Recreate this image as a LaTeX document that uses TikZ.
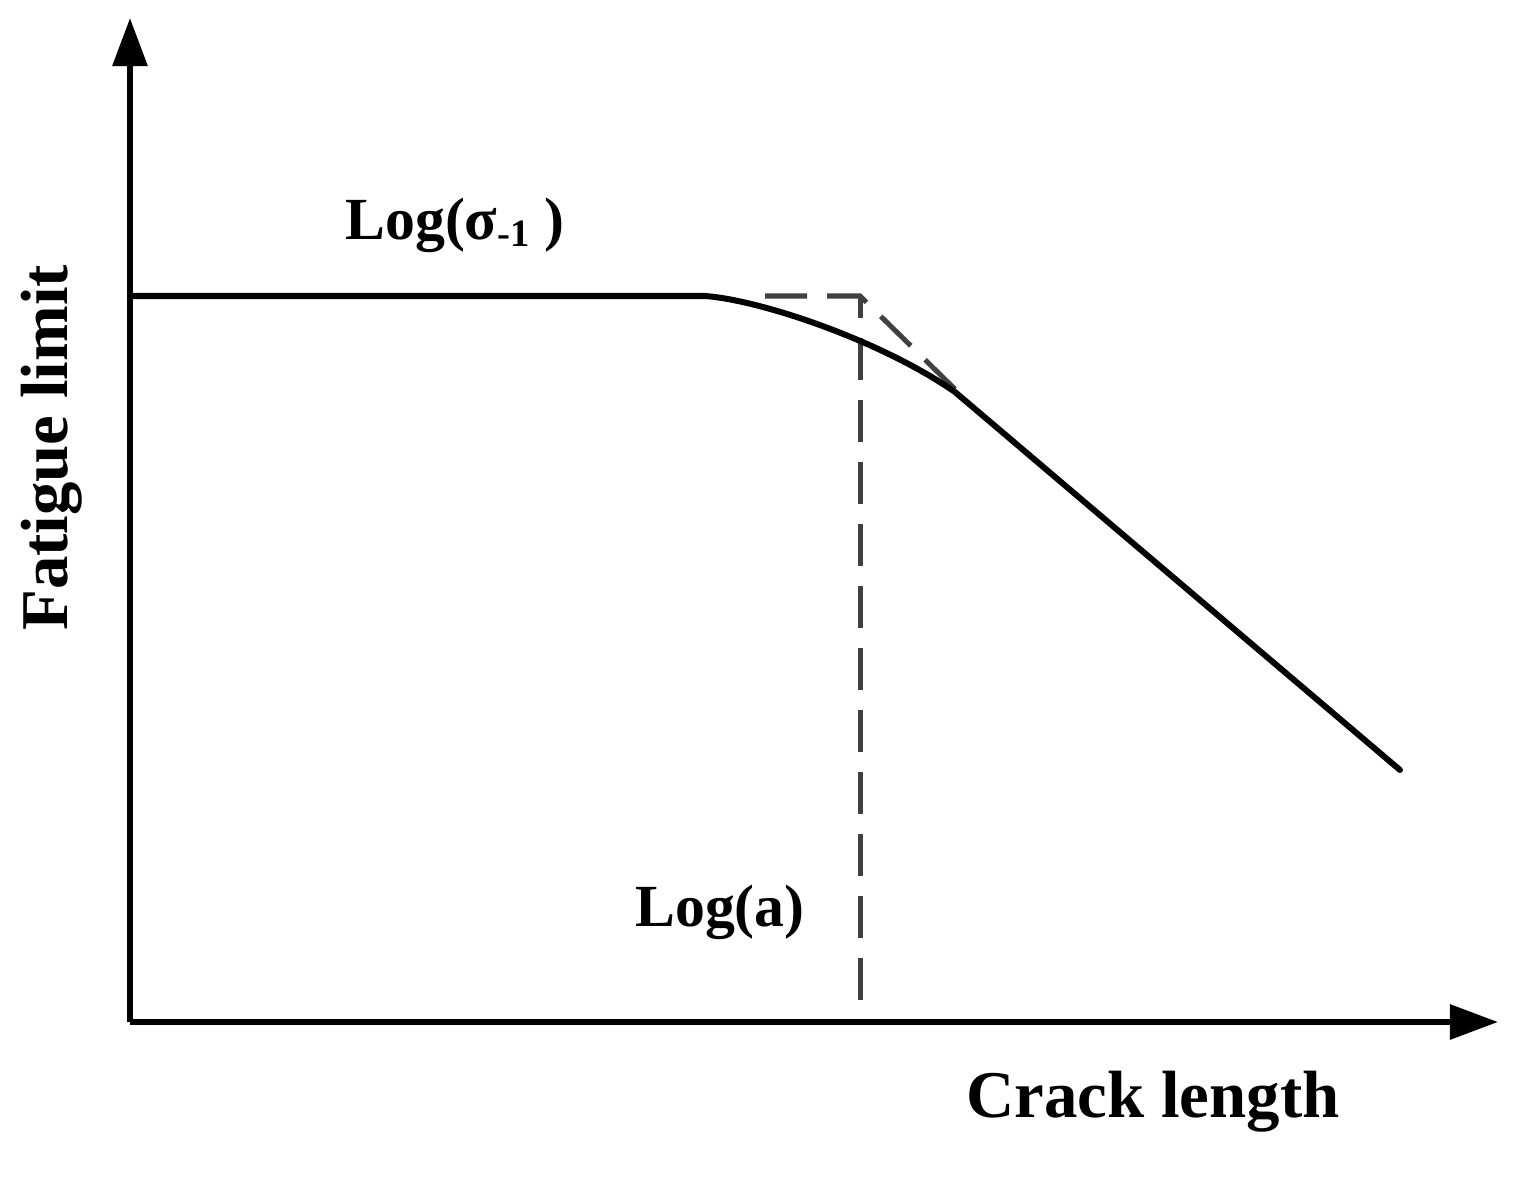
\documentclass[tikz,border=0pt]{standalone}
\usepackage{fontspec}
\setmainfont{Liberation Serif}
\usetikzlibrary{arrows.meta}
\begin{document}
\begin{tikzpicture}[x=0.01cm,y=-0.01cm,
  axis/.style={line width=6*0.2845pt,-{Triangle[length=48*0.2845pt,width=34*0.2845pt]}},
  curve/.style={line width=6*0.2845pt},
  guide/.style={line width=5*0.2845pt,draw={rgb,255:red,64;green,64;blue,64},dash pattern=on 42*0.2845pt off 20*0.2845pt},
  lbl/.style={font=\bfseries\fontsize{17}{20}\selectfont}]
\useasboundingbox (0,0) rectangle (1524,1197);
\coordinate (O) at (130,1022);
\coordinate (Ytop) at (130,18);
\coordinate (Xend) at (1498,1022);
\draw[axis] (O) -- (Ytop);
\draw[axis] (O) -- (Xend);
\coordinate (A) at (130,296);
\coordinate (B) at (705,296);
\coordinate (C) at (955,392);
\coordinate (D) at (1400,770);
\coordinate (P) at (860,296);
\coordinate (Q) at (860,1000);
\coordinate (R) at (765,296);
\coordinate (S) at (962,396);
\draw[guide] (R) -- (P) -- (S);
\draw[guide] (Q) -- (P);
\draw[curve,line cap=round] (A) -- (B) .. controls (760,300) and (880,340) .. (C) -- (D);
\node[lbl] (ls) at (455,225) {Log(σ\raisebox{-0.25ex}{\fontsize{11}{12}\selectfont -1} )};
\node[lbl] (la) at (720,912) {Log(a)};
\node[lbl,font=\bfseries\fontsize{19}{22}\selectfont] (xl) at (1153,1102) {Crack length};
\node[lbl,font=\bfseries\fontsize{19}{22}\selectfont,rotate=90] (yl) at (52,448) {Fatigue limit};
\end{tikzpicture}
\end{document}
